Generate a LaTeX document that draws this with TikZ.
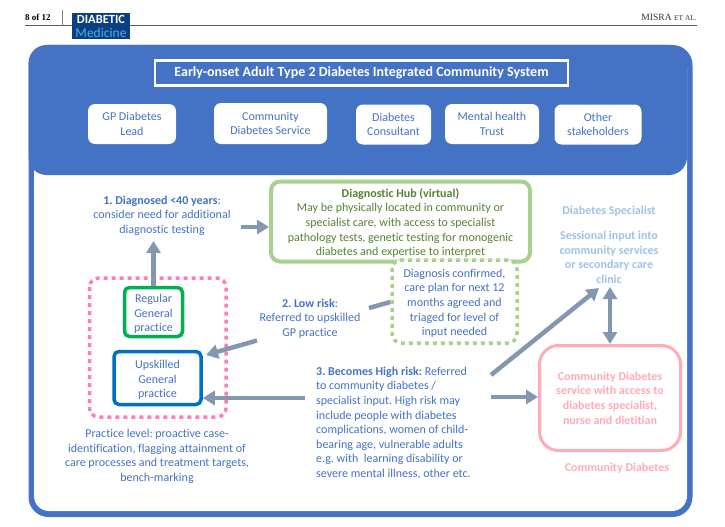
\documentclass[tikz,border=0pt]{standalone}
\usepackage{fontspec}
\setmainfont[Ligatures=NoCommon]{Carlito}
\newfontfamily\serifhead{Liberation Serif}
\usetikzlibrary{arrows.meta}
\frenchspacing
\definecolor{frameblue}{HTML}{4472C4}
\definecolor{lightblue}{HTML}{9DC3E6}
\definecolor{hubgreen}{HTML}{A9D18E}
\definecolor{darkgreen}{HTML}{548235}
\definecolor{dotpink}{HTML}{FF7DB2}
\definecolor{softpink}{HTML}{FFABB5}
\definecolor{arrowgrey}{HTML}{8497B0}
\definecolor{regulargreen}{HTML}{00B050}
\definecolor{upskillblue}{HTML}{0070C0}
\definecolor{logoblue}{HTML}{0B3F82}
\definecolor{logocyan}{HTML}{45B4E6}
\newcommand\dropfirst{\rule{0pt}{12pt}}
\tikzset{
  body/.style={inner sep=0pt,align=center,font=\fontsize{12}{14.6}\selectfont},
  boldbody/.style={body,font=\bfseries\fontsize{12}{14.6}\selectfont},
  bodytext/.style={body,text=frameblue},
  member/.style={bodytext,fill=white,rounded corners=7pt},
  practice/.style={bodytext,fill=white,rounded corners=5pt,line width=3.5pt,draw},
  flow/.style={draw=arrowgrey,line width=4.5pt,-{Triangle[length=12pt,width=14pt]}},
  flowboth/.style={draw=arrowgrey,line width=4.5pt,{Triangle[length=12pt,width=14pt]}-{Triangle[length=12pt,width=14pt]}},
  stub/.style={draw=arrowgrey,line width=4.5pt},
  dotbox/.style={line width=3.5pt,dash pattern=on 4pt off 4pt,rounded corners=9pt},
}
\begin{document}
\begin{tikzpicture}[x=1pt,y=-1pt]
\useasboundingbox (0,0) rectangle (725,527);
% page header
\draw[line width=0.8pt,draw=black!65] (25,25.5) -- (697,25.5);
\draw[line width=1pt,draw=lightblue!70!black] (62,10) -- (62,26);
\node[inner sep=0pt,anchor=west,font=\serifhead\bfseries\fontsize{9}{10}\selectfont] (page) at (25,17) {8 of 12};
\node[inner sep=0pt,anchor=east,font=\serifhead\fontsize{9.6}{10}\selectfont,text=black!80] (author) at (697,17) {MISRA {\fontsize{7.4}{8}\selectfont ET AL.}};
\fill[logoblue] (71.5,13) rectangle (129.5,39);
\node[inner sep=0pt,text=white,font=\bfseries\fontsize{12.5}{12.5}\selectfont] (logoa) at (101,19.5) {DIABETIC};
\node[inner sep=0pt,text=logocyan,font=\fontsize{13.5}{13.5}\selectfont] (logob) at (101,32.5) {Medicine};
% frame
\fill[frameblue] (28.5,45) [rounded corners=20pt] rectangle (692.5,517);
\fill[white] (34,52) [rounded corners=15pt] rectangle (687,511);
\fill[frameblue] (28.5,45) [rounded corners=18pt] rectangle (687,175);
\fill[frameblue,sharp corners] (28.5,60) rectangle (34,150);
% title
\node[draw=white,line width=2.5pt,fill=frameblue,minimum width=413pt,minimum height=25pt,inner sep=0pt,text=white,font=\bfseries\fontsize{14}{16}\selectfont] (title) at (361.5,73) {Early-onset Adult Type 2 Diabetes Integrated Community System};
% members
\node[member,minimum width=88pt,minimum height=40pt] (gp) at (132,124) {GP Diabetes\\Lead};
\node[member,minimum width=113pt,minimum height=41pt] (comm) at (270.5,123.5) {Community\\Diabetes Service};
\node[member,minimum width=75pt,minimum height=40pt] (cons) at (393.5,124.5) {Diabetes\\Consultant};
\node[member,minimum width=94pt,minimum height=40pt] (mental) at (492,124) {Mental health\\Trust};
\node[member,minimum width=87pt,minimum height=40pt] (other) at (598,124.5) {Other\\stakeholders};
% hub
\node[body,text=darkgreen,draw=hubgreen,line width=4pt,rounded corners=9pt,minimum width=259pt,minimum height=80pt] (hub) at (400.5,221.5) {\dropfirst\textbf{Diagnostic Hub (virtual)}\\May be physically located in community or\\specialist care, with access to specialist\\pathology tests, genetic testing for monogenic\\diabetes and expertise to interpret};
\node[bodytext,draw=hubgreen,fill=white,dotbox,minimum width=125pt,minimum height=83pt] (confirmed) at (454.5,301.5) {\dropfirst Diagnosis confirmed,\\care plan for next 12\\months agreed and\\triaged for level of\\input needed};
% practice level
\draw[draw=dotpink,dotbox] (89.5,278) rectangle (226,417);
\node[practice,draw=regulargreen,minimum width=58pt,minimum height=49pt] (regular) at (153.5,312) {\dropfirst Regular\\General\\practice};
\node[practice,draw=upskillblue,minimum width=87pt,minimum height=53pt] (upskilled) at (157.5,378) {\dropfirst Upskilled\\General\\practice};
\node[bodytext] (practicetext) at (157,456.5) {Practice level: proactive case-\\identification, flagging attainment of\\care processes and treatment targets,\\bench-marking};
% steps
\node[bodytext] (diag) at (162,215.5) {\textbf{1. Diagnosed <40 years}:\\consider need for additional\\diagnostic testing};
\node[bodytext] (lowrisk) at (310,318.5) {\textbf{2. Low risk}:\\Referred to upskilled\\GP practice};
\node[bodytext,align=left,anchor=west] (highrisk) at (316,423) {\textbf{3. Becomes High risk:} Referred\\to community diabetes /\\specialist input. High risk may\\include people with diabetes\\complications, women of child-\\bearing age, vulnerable adults\\e.g. with\ \ learning disability or\\severe mental illness, other etc.};
% specialist
\node[boldbody,text=lightblue] (spectitle) at (609,211) {Diabetes Specialist};
\node[boldbody,text=lightblue] (sessional) at (609,257.5) {Sessional input into\\community services\\or secondary care\\clinic};
% community
\node[boldbody,text=softpink,draw=softpink,line width=3pt,rounded corners=19pt,minimum width=141pt,minimum height=105pt] (service) at (610,398) {Community Diabetes\\service with access to\\diabetes specialist,\\nurse and dietitian};
\node[boldbody,text=softpink] (commlabel) at (617,468) {Community Diabetes};
% connectors
\coordinate (upto) at (153.5,241);
\draw[flow] (regular.north) -- (upto);
\coordinate (hubstart) at (241,227);
\draw[flow] (hubstart) -- (hub.west |- hubstart);
\coordinate (lowfrom) at (257,340.5);
\coordinate (lowstub) at (369,308);
\coordinate (lowto) at (206,355);
\draw[stub] (confirmed.west |- 0,302) -- (lowstub);
\draw[flow] (lowfrom) -- (lowto);
\coordinate (highleft) at (305,398);
\draw[flow] (highleft) -- (upskilled.east |- highleft);
\coordinate (highright) at (491,397);
\draw[flow] (highright) -- (service.west |- highright);
\coordinate (diagfrom) at (491,375);
\coordinate (diagto) at (599,288);
\draw[flow] (diagfrom) -- (diagto);
\coordinate (bothtop) at (610,287);
\draw[flowboth] (bothtop) -- (service.north -| bothtop);
\end{tikzpicture}
\end{document}
